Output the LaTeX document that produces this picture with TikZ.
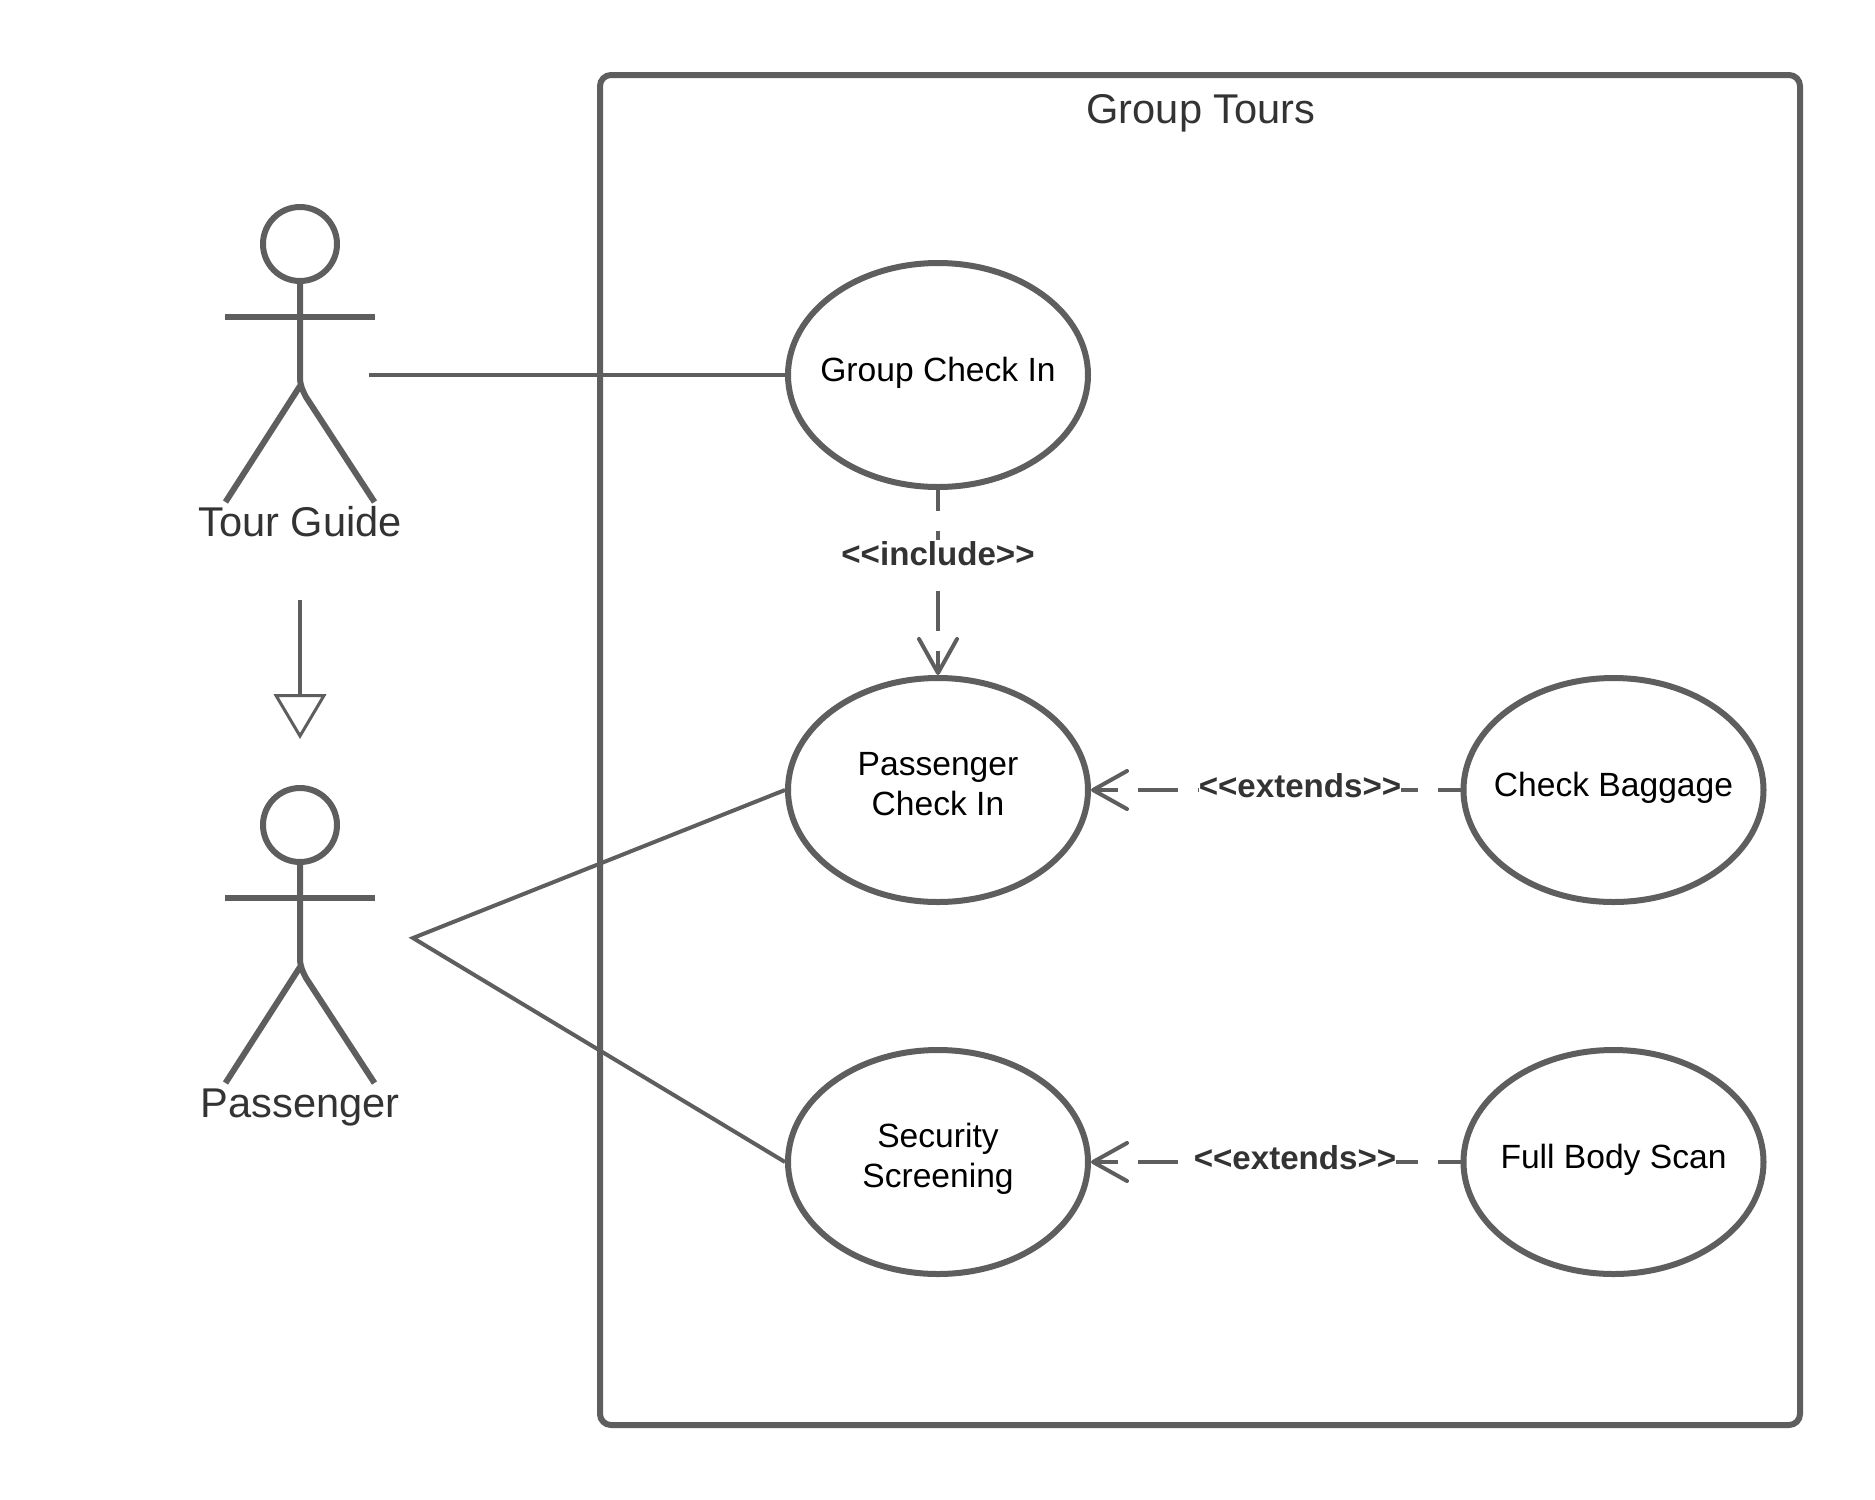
\documentclass[tikz,border=0pt]{standalone}
\usepackage{fontspec}
\setmainfont{Liberation Sans}
\usetikzlibrary{shapes.geometric,arrows.meta}
\definecolor{ink}{HTML}{5E5E5E}
\definecolor{txt}{HTML}{333333}
\newcommand{\ucOne}[1]{\raisebox{-6pt}[0pt][0pt]{\makebox[0pt]{#1}}}
\newcommand{\ucTwo}[2]{\raisebox{15pt}[0pt][0pt]{\makebox[0pt]{\begin{tabular}[t]{@{}c@{}}#1\\#2\end{tabular}}}}
\newcommand{\actor}[2]{%
  \draw[ink,line width=6pt] (#1,#2+0) circle [radius=37pt];
  \draw[ink,line width=6pt] (#1,#2+37) -- (#1,#2+133) .. controls (#1,#2+142) and (#1+3,#2+147) .. (#1+6,#2+153) -- (#1+74.5,#2+258);
  \draw[ink,line width=6pt] (#1,#2+142) -- (#1-74.5,#2+258);
  \draw[ink,line width=6pt] (#1-75,#2+73) -- (#1+75,#2+73);
}
\tikzset{
  uc/.style={ellipse,draw=ink,line width=6pt,fill=white,minimum width=300pt,minimum height=224pt,inner sep=0pt,text=black,font=\fontsize{33.6}{40}\selectfont},
  wire/.style={ink,line width=4pt},
  dashwire/.style={ink,line width=4pt,dash pattern=on 40pt off 20pt},
  tag/.style={anchor=base,fill=white,inner xsep=0pt,inner ysep=0pt,text height=25pt,text depth=14pt,text=txt,font=\fontsize{33.1}{33}\bfseries\selectfont},
  actorname/.style={text=txt,font=\fontsize{41.6}{42}\selectfont,inner sep=0pt},
  openhead/.style={-{Straight Barb[length=34pt,width=38pt,line width=4pt,round=false]}}
}
\begin{document}
\begin{tikzpicture}[x=1pt,y=-1pt]
\useasboundingbox (0,0) rectangle (1875,1500);
\draw[ink,line width=6pt,rounded corners=11pt] (600,75) rectangle (1800,1425);
\node[actorname,anchor=base] (title) at (1201,123) {Group Tours};
\actor{300}{244}
\actor{300}{825}
\node[actorname,anchor=base] (guide) at (300,536) {Tour Guide};
\node[actorname,anchor=base] (pass) at (300,1117) {Passenger};
\node[uc] (gc) at (938,375) {\ucOne{Group Check In}};
\node[uc] (pc) at (938,790) {\ucTwo{Passenger}{Check In}};
\node[uc] (ss) at (938,1162) {\ucTwo{Security}{Screening}};
\node[uc] (cb) at (1613.5,790) {\ucOne{Check Baggage}};
\node[uc] (fb) at (1613.5,1162) {\ucOne{Full Body Scan}};
\coordinate (gs) at (369,375);
\coordinate (ps) at (413,938);
\coordinate (gentop) at (300,600);
\coordinate (gentip) at (300,736);
\coordinate (genbase) at (300,695.5);
\draw[wire] (gs) -- (gc.west);
\draw[wire,line join=miter] (pc.west) -- (ps) -- (ss.west);
\draw[wire] (gentop) -- (genbase);
\draw[ink,line width=3pt,fill=white] (276,695.5) -- (324,695.5) -- (gentip) -- cycle;
\draw[dashwire,dash phase=19pt,openhead] (gc.south) -- (pc.north);
\draw[dashwire,dash phase=17pt,openhead] (cb.west) -- (pc.east);
\draw[dashwire,dash phase=17pt,openhead] (fb.west) -- (ss.east);
\node[tag] (l1) at (938,565) {<{}<include>{}>};
\node[tag] (l2) at (1300,797) {<{}<extends>{}>};
\node[tag] (l3) at (1295,1169) {<{}<extends>{}>};
\end{tikzpicture}
\end{document}
